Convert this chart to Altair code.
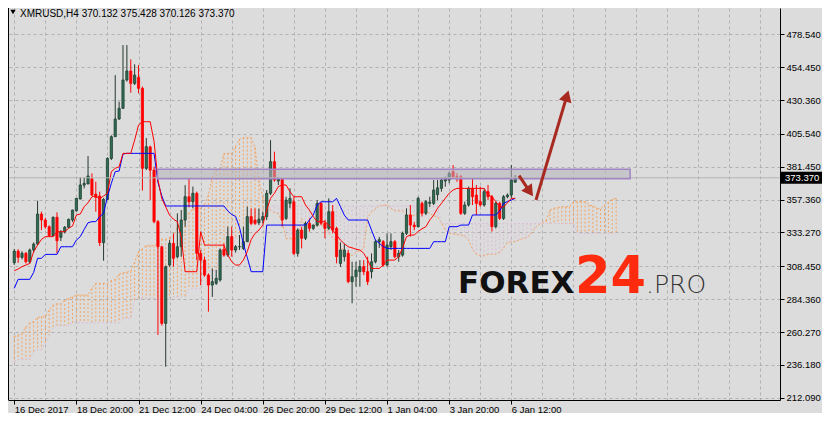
import json
import altair as alt
import pandas as pd

# ---------------- data ----------------
symbol = "XMRUSD,H4"
date_labels = ["16 Dec 2017", "18 Dec 20:00", "21 Dec 12:00", "24 Dec 04:00",
               "26 Dec 20:00", "29 Dec 12:00", "1 Jan 04:00", "3 Jan 20:00", "6 Jan 12:00"]
price_ticks = [212.09, 236.18, 260.27, 284.36, 308.45, 333.27,
               357.36, 381.45, 405.54, 430.36, 454.45, 478.54]

opens = [311.1, 319.6, 315.0, 318.0, 311.8, 320.4, 324.8, 346.8, 342.4, 337.5,
         330.9, 344.4, 329.7, 333.8, 337.1, 342.4, 349.2, 357.8, 368.0, 368.8,
         372.7, 361.4, 360.0, 325.8, 357.5, 387.6, 403.5, 416.5, 424.3, 445.1,
         451.7, 442.6, 447.0, 439.0, 380.3, 396.0, 379.0, 341.2, 322.8, 266.6,
         309.4, 325.3, 315.5, 322.8, 342.4, 359.5, 355.8, 362.0, 318.0, 313.0,
         302.0, 294.7, 296.0, 298.4, 320.9, 316.7, 330.2, 320.4, 322.8, 321.6,
         326.5, 344.9, 342.4, 340.4, 342.4, 344.9, 362.0, 385.2, 371.0, 372.2,
         343.6, 354.6, 355.8, 317.9, 335.0, 329.0, 340.0, 336.3, 338.7, 354.6,
         340.0, 336.3, 348.5, 336.3, 310.6, 315.5, 318.0, 297.2, 300.8, 304.5,
         308.2, 304.5, 304.5, 311.8, 326.5, 326.5, 309.4, 322.9, 326.5, 315.5,
         316.7, 332.6, 346.1, 338.7, 337.5, 354.6, 347.3, 354.6, 354.6, 361.0,
         365.6, 371.0, 371.7, 377.9, 374.2, 374.2, 347.3, 353.4, 365.6, 360.7,
         355.9, 353.4, 363.2, 359.5, 337.5, 354.6, 343.6, 359.5, 360.7, 370.132]
highs = [321.0, 321.0, 319.5, 319.0, 321.5, 326.0, 356.6, 348.5, 344.0, 338.5,
         345.0, 348.0, 335.0, 338.0, 343.5, 350.0, 358.5, 373.7, 373.7, 389.3,
         376.6, 370.5, 363.2, 358.5, 388.3, 404.5, 448.7, 429.2, 470.7, 470.7,
         460.2, 456.6, 456.0, 440.3, 402.5, 397.0, 381.5, 342.4, 323.5, 309.0,
         327.7, 332.6, 347.3, 349.7, 368.0, 373.0, 366.9, 363.2, 320.4, 315.5,
         303.3, 306.9, 305.7, 321.6, 325.3, 337.5, 337.5, 324.0, 331.4, 337.5,
         352.2, 351.0, 350.9, 350.9, 348.5, 364.4, 401.0, 392.5, 374.0, 372.9,
         359.5, 365.6, 359.5, 336.3, 337.5, 341.2, 343.6, 339.0, 357.0, 355.8,
         342.4, 358.3, 353.4, 337.5, 326.0, 325.0, 320.4, 311.8, 311.8, 313.0,
         313.0, 315.5, 317.9, 327.7, 330.0, 327.7, 332.6, 332.6, 327.7, 320.4,
         333.9, 351.0, 353.4, 341.0, 359.5, 356.0, 357.0, 359.5, 371.7, 371.7,
         373.0, 374.2, 377.9, 382.7, 376.6, 375.4, 355.9, 366.9, 373.0, 368.1,
         366.9, 365.6, 368.1, 360.7, 355.9, 355.9, 360.7, 361.9, 382.7, 375.428]
lows = [309.5, 311.0, 313.5, 310.5, 310.5, 318.5, 324.0, 335.0, 336.0, 330.0,
        330.0, 318.0, 327.0, 332.5, 336.5, 341.0, 348.5, 357.5, 365.6, 368.8,
        360.2, 348.5, 323.3, 312.6, 357.0, 386.4, 403.5, 415.8, 424.3, 443.9,
        435.8, 441.4, 435.3, 364.0, 379.0, 357.0, 340.0, 258.1, 265.0, 234.8,
        308.2, 308.2, 314.3, 315.5, 337.5, 351.7, 351.0, 313.0, 294.7, 300.8,
        275.2, 286.0, 294.7, 297.2, 315.5, 315.5, 315.5, 318.5, 320.4, 320.4,
        326.5, 338.7, 338.7, 338.7, 340.0, 342.4, 360.7, 370.5, 368.0, 337.5,
        342.4, 351.0, 316.7, 315.5, 321.6, 327.7, 333.9, 335.0, 337.5, 338.7,
        329.0, 335.0, 332.6, 310.6, 308.0, 312.0, 296.0, 281.3, 293.5, 293.5,
        302.0, 294.7, 299.6, 310.6, 322.0, 308.2, 308.2, 320.4, 314.3, 311.8,
        315.5, 331.4, 330.2, 335.0, 337.0, 345.0, 346.0, 352.0, 353.4, 357.0,
        363.2, 366.9, 369.3, 373.0, 370.5, 346.1, 346.1, 352.2, 353.4, 346.1,
        352.2, 352.2, 357.0, 333.9, 336.3, 342.4, 342.4, 358.3, 358.3, 370.126]
closes = [319.6, 315.0, 318.0, 311.8, 320.4, 324.8, 346.8, 342.4, 337.5, 330.9,
          344.4, 327.2, 333.8, 337.1, 342.9, 349.7, 358.3, 368.1, 369.3, 374.7,
          360.7, 359.0, 325.8, 357.5, 387.6, 403.5, 416.5, 424.3, 445.1, 451.7,
          442.6, 448.7, 439.0, 380.3, 396.2, 379.0, 341.2, 322.8, 266.6, 308.2,
          325.3, 314.3, 322.8, 342.4, 359.5, 355.8, 362.0, 318.0, 313.0, 302.0,
          294.7, 297.2, 299.6, 320.4, 316.7, 330.2, 320.4, 322.8, 322.9, 326.5,
          344.9, 340.0, 340.0, 342.9, 344.9, 362.0, 385.2, 371.7, 372.5, 342.4,
          357.0, 358.3, 317.9, 335.0, 329.0, 340.0, 336.3, 338.7, 354.6, 340.0,
          336.3, 348.5, 335.0, 315.5, 320.4, 320.4, 297.2, 300.8, 305.7, 308.2,
          304.5, 297.2, 311.8, 326.5, 328.0, 309.4, 324.0, 326.5, 315.5, 318.0,
          332.6, 346.1, 338.7, 337.5, 358.3, 347.3, 355.9, 355.5, 364.4, 366.0,
          371.7, 372.5, 376.6, 374.2, 373.5, 347.3, 353.4, 365.6, 359.5, 354.6,
          353.4, 363.2, 359.5, 337.5, 354.6, 343.6, 359.5, 360.7, 371.7, 373.37]

tenkan = [305.2, 306.5, 308.2, 309.4, 310.6, 319.2, 324.0, 328.2, 330.2, 330.2,
          330.2, 333.8, 333.8, 333.8, 336.3, 338.0, 346.1, 346.8, 352.2, 355.0,
          359.5, 360.0, 358.0, 360.0, 362.0, 377.9, 380.3, 381.5, 391.3, 391.3,
          391.3, 401.0, 412.1, 414.5, 414.5, 414.5, 400.0, 372.0, 358.0, 352.0,
          346.0, 343.0, 341.2, 330.0, 304.5, 304.5, 304.5, 304.5, 333.8, 324.0,
          324.0, 324.0, 324.0, 324.0, 324.0, 316.7, 311.8, 309.4, 309.4, 313.0,
          319.2, 328.0, 332.6, 335.0, 338.7, 349.7, 358.3, 362.0, 366.9, 368.1,
          368.1, 363.2, 359.5, 359.5, 359.5, 353.4, 349.7, 344.9, 341.2, 341.2,
          341.2, 338.7, 335.0, 331.4, 327.7, 325.0, 322.8, 322.0, 321.0, 320.4,
          318.0, 313.0, 306.9, 306.9, 306.9, 309.4, 313.0, 313.0, 313.0, 315.5,
          322.0, 330.2, 331.4, 331.4, 334.0, 336.0, 337.5, 342.4, 346.0, 351.0,
          354.6, 358.3, 362.0, 364.4, 365.6, 365.6, 365.6, 365.6, 365.6, 365.6,
          365.6, 365.6, 360.7, 359.5, 356.0, 352.0, 352.0, 355.0, 358.3, 358.3]
kijun = [292.3, 298.9, 298.9, 298.9, 298.9, 304.0, 314.3, 314.3, 317.2, 317.2,
         317.2, 317.2, 322.8, 322.8, 322.8, 322.8, 327.7, 330.2, 335.5, 340.4,
         341.2, 341.2, 344.9, 347.3, 359.5, 369.3, 377.9, 378.3, 390.8, 391.3,
         391.3, 391.3, 391.3, 391.3, 391.3, 391.3, 391.3, 370.0, 360.0, 352.7,
         352.7, 352.7, 352.7, 352.7, 352.7, 352.7, 352.7, 352.7, 352.7, 352.7,
         352.7, 352.7, 352.7, 352.7, 352.7, 349.0, 346.5, 345.0, 337.0, 325.0,
         315.0, 304.5, 304.5, 304.5, 304.5, 338.7, 338.7, 338.7, 338.7, 338.7,
         338.7, 338.7, 338.7, 338.7, 338.7, 338.7, 342.4, 346.1, 353.4, 355.8,
         355.8, 355.8, 355.8, 358.3, 352.2, 346.0, 342.4, 342.4, 342.4, 342.4,
         342.4, 342.4, 335.0, 327.7, 325.3, 323.0, 321.6, 321.6, 321.6, 321.6,
         321.6, 321.6, 321.6, 321.6, 321.6, 321.6, 321.6, 321.6, 326.5, 326.5,
         326.5, 326.5, 337.5, 337.5, 337.5, 338.7, 338.7, 338.7, 346.1, 346.1,
         346.1, 346.1, 346.1, 346.1, 346.1, 349.0, 354.6, 356.0, 357.0, 358.3]
span_a = [256.8, 258.0, 259.3, 264.1, 267.1, 268.0, 270.8, 271.5, 271.5, 276.4,
          280.0, 281.0, 281.0, 283.7, 285.0, 286.0, 287.4, 287.4, 287.4, 287.4,
          292.3, 296.0, 296.0, 296.0, 296.0, 298.0, 298.8, 302.7, 303.6, 304.2,
          304.8, 311.6, 319.2, 321.3, 323.7, 323.7, 323.7, 325.5, 328.3, 328.3,
          329.6, 330.4, 336.9, 338.5, 343.9, 347.7, 350.4, 350.6, 351.5, 353.7,
          360.8, 373.6, 379.1, 379.9, 391.1, 391.3, 391.3, 396.2, 401.7, 402.9,
          402.9, 402.9, 395.7, 371.0, 359.0, 352.4, 349.4, 347.9, 347.0, 341.4,
          328.6, 328.6, 328.6, 328.6, 343.3, 338.4, 338.4, 338.4, 338.4, 338.4,
          338.4, 332.9, 329.2, 327.2, 323.2, 319.0, 317.1, 316.3, 318.6, 319.8,
          321.6, 344.2, 348.5, 350.4, 352.8, 353.4, 353.4, 351.0, 349.1, 349.1,
          349.1, 346.1, 346.1, 345.5, 347.3, 348.5, 348.5, 347.3, 345.4, 344.9,
          340.0, 335.5, 332.6, 332.2, 331.7, 331.4, 330.2, 327.7, 321.0, 317.3,
          316.1, 316.2, 317.3, 317.3, 317.3, 318.6, 321.8, 325.9, 326.5, 326.5,
          327.8, 328.8, 329.6, 332.0, 336.3, 338.8, 340.6, 342.4, 349.8, 351.0,
          351.6, 352.2, 352.2, 352.2, 355.9, 355.9, 355.9, 355.9, 353.4, 352.8,
          351.1, 350.5, 353.3, 355.5, 357.7, 358.3]
span_b = [238.5, 240.2, 240.2, 240.2, 240.2, 245.8, 247.1, 247.1, 252.0, 258.0,
          262.9, 265.0, 265.0, 265.0, 265.0, 267.1, 267.1, 267.1, 267.1, 267.1,
          267.1, 267.1, 267.1, 267.1, 267.1, 267.1, 267.1, 267.1, 270.3, 270.3,
          270.3, 283.7, 284.9, 284.9, 284.9, 284.9, 284.9, 284.9, 284.9, 284.9,
          284.9, 286.0, 286.0, 286.0, 286.0, 292.0, 292.0, 292.0, 292.0, 305.0,
          305.0, 305.0, 305.0, 316.0, 316.0, 316.0, 316.0, 330.0, 330.0, 330.0,
          330.0, 340.0, 340.0, 340.0, 347.0, 347.0, 352.7, 352.7, 352.7, 352.7,
          352.7, 352.7, 352.7, 352.7, 352.7, 352.7, 352.7, 352.7, 352.7, 352.7,
          352.7, 352.7, 352.7, 352.7, 352.7, 352.7, 352.7, 352.7, 352.7, 352.7,
          352.7, 352.7, 352.7, 352.7, 352.7, 352.7, 352.7, 352.7, 352.7, 352.7,
          352.7, 352.7, 352.7, 352.7, 352.7, 352.7, 352.7, 352.7, 352.7, 352.7,
          339.8, 339.8, 339.8, 339.8, 339.8, 339.8, 339.8, 339.8, 339.8, 339.8,
          339.8, 339.8, 339.8, 339.8, 339.8, 339.8, 339.8, 339.8, 339.8, 339.8,
          339.8, 339.8, 339.8, 339.8, 339.8, 339.8, 339.8, 339.8, 339.8, 339.8,
          339.8, 339.8, 339.8, 339.8, 339.8, 332.6, 332.6, 332.6, 332.6, 332.6,
          332.6, 332.6, 332.6, 332.6, 332.6, 332.6]

# resistance zone (bar index range, price range)
zone_bars = [36.9, 158.6]
zone_prices = [372.6, 379.7]
# analyst arrows: start (bar, price) -> head centre (bar, price), head angle
arrow_start_bar = [130.0, 134.35]
arrow_start_price = [374.9, 357.1]
arrow_head_bar = [132.75, 142.3]
arrow_head_price = [363.2, 433.4]
arrow_head_angle = [145, 17]

last_price = closes[-1]

# ---------------- styling ----------------
W, H = 772, 392
BG = "#dcdcdc"
GRID = "#b0b0b0"
FONT = "Liberation Sans"
UP_FILL, UP_EDGE, UP_WICK = "#2f6e54", "#1f3f31", "#26392f"
RED = "#ff0000"
SAND, THISTLE = "#f4a460", "#d8bfd8"
ARROW = "#a8291f"

candles = pd.DataFrame({"bar": list(range(len(opens))), "open": opens, "high": highs,
                        "low": lows, "close": closes})
ichi = pd.DataFrame({"bar": list(range(len(tenkan))), "tenkan": tenkan, "kijun": kijun})
cloud = pd.DataFrame({"bar": list(range(len(span_a))), "a": span_a, "b": span_b})
zone = pd.DataFrame({"bar": [zone_bars[0]], "bar2": [zone_bars[1]],
                     "lo": [zone_prices[0]], "hi": [zone_prices[1]]})
arrows = pd.DataFrame({"bar": arrow_start_bar, "price": arrow_start_price,
                       "bar2": arrow_head_bar, "price2": arrow_head_price,
                       "ang": arrow_head_angle})
price_df = pd.DataFrame({"price": [last_price], "lo": [last_price - 4.4],
                         "hi": [last_price + 4.4], "txt": [f"{last_price:.3f}"]})
one = pd.DataFrame({"k": [0]})

xs = alt.Scale(domain=[-0.325, 195.9], nice=False, zero=False)
ys = alt.Scale(domain=[210.4, 497.9], nice=False, zero=False)
label_js = json.dumps(date_labels)
tick_test = "datum.value % 16 === 0 && datum.value <= 128"
x_axis = alt.Axis(values=list(range(0, 193, 8)), title=None, grid=True,
                  gridColor=GRID, gridDash=[3, 3], gridWidth=1,
                  domainColor="black", domainWidth=1, tickColor="black",
                  tickSize=4, tickWidth=1,
                  tickOpacity={"condition": {"test": tick_test, "value": 1}, "value": 0},
                  labelExpr=f"({tick_test}) ? {label_js}[datum.value / 16] : ''",
                  labelAlign="left", labelBaseline="top", labelPadding=0,
                  labelFlush=False, labelBound=False, labelOverlap=False,
                  labelFont=FONT, labelFontSize=9.5, labelColor="black")
y_axis = alt.Axis(orient="right", values=price_ticks, format=".3f", title=None,
                  grid=True, gridColor=GRID, gridDash=[3, 3], gridWidth=1,
                  domainColor="black", domainWidth=1, tickColor="black", tickSize=4,
                  labelPadding=2, labelFont=FONT, labelFontSize=9.5, labelColor="black",
                  labelOverlap=False, labelBound=False, labelFlush=False)


def X(f):
    return alt.X(f"{f}:Q", scale=xs, axis=x_axis)


def Y(f):
    return alt.Y(f"{f}:Q", scale=ys, axis=y_axis)


is_up = alt.datum.close >= alt.datum.open

hatch = alt.Chart(cloud).mark_rule(strokeWidth=1, strokeDash=[2, 2]).encode(
    x=X("bar"), y=Y("a"), y2="b:Q",
    color=alt.condition(alt.datum.a >= alt.datum.b, alt.value(SAND), alt.value(THISTLE)))
line_a = alt.Chart(cloud).mark_line(color=SAND, strokeWidth=1, strokeDash=[2, 2]).encode(
    x=X("bar"), y=Y("a"))
line_b = alt.Chart(cloud).mark_line(color=THISTLE, strokeWidth=1, strokeDash=[2, 2]).encode(
    x=X("bar"), y=Y("b"))

wicks = alt.Chart(candles).mark_rule(strokeWidth=1).encode(
    x=X("bar"), y=Y("low"), y2="high:Q",
    color=alt.condition(is_up, alt.value(UP_WICK), alt.value(RED)))
bodies = alt.Chart(candles).mark_bar(size=2.2, strokeWidth=0.8).encode(
    x=X("bar"), y=Y("open"), y2="close:Q",
    fill=alt.condition(is_up, alt.value(UP_FILL), alt.value(RED)),
    stroke=alt.condition(is_up, alt.value(UP_EDGE), alt.value(RED)))

kijun_line = alt.Chart(ichi).mark_line(color="#0000ff", strokeWidth=1).encode(
    x=X("bar"), y=Y("kijun"))
tenkan_line = alt.Chart(ichi).mark_line(color=RED, strokeWidth=1).encode(
    x=X("bar"), y=Y("tenkan"))

price_line = alt.Chart(price_df).mark_rule(color="#b4b4b4", strokeWidth=1).encode(
    y=Y("price"), x=alt.value(0), x2=alt.value(W))

zone_rect = alt.Chart(zone).mark_rect(fill="#b4b4bc", fillOpacity=0.55,
                                      stroke="#a384c4", strokeWidth=1.5).encode(
    x=X("bar"), x2="bar2:Q", y=Y("lo"), y2="hi:Q")

arrow_lines = alt.Chart(arrows).mark_rule(color=ARROW, strokeWidth=3).encode(
    x=X("bar"), y=Y("price"), x2="bar2:Q", y2="price2:Q")
arrow_heads = alt.Chart(arrows).mark_point(shape="triangle-up", filled=True, opacity=1,
                                           color=ARROW, size=170).encode(
    x=X("bar2"), y=Y("price2"), angle=alt.Angle("ang:Q", scale=None))

tag_box = alt.Chart(price_df).mark_rect(color="black").encode(
    y=Y("lo"), y2="hi:Q", x=alt.value(W + 1), x2=alt.value(W + 42))
tag_text = alt.Chart(price_df).mark_text(align="left", baseline="middle", color="white",
                                         font=FONT, fontSize=9.5).encode(
    y=Y("price"), x=alt.value(W + 5), text="txt:N")

left_frame = alt.Chart(one).mark_rule(color="black", strokeWidth=1).encode(
    x=alt.value(0.5), y=alt.value(0), y2=alt.value(H))

header_tri = alt.Chart(one).mark_point(shape="triangle-down", filled=True, opacity=1,
                                       color="black", size=28).encode(
    x=alt.value(5), y=alt.value(4))
header_txt = alt.Chart(one).mark_text(
    align="left", baseline="alphabetic", font=FONT, fontSize=10, color="black",
    text=f"{symbol}  {opens[-1]:.3f} {highs[-1]:.3f} {lows[-1]:.3f} {closes[-1]:.3f}"
).encode(x=alt.value(12), y=alt.value(9))

logo_1 = alt.Chart(one).mark_text(align="left", baseline="alphabetic", font="DejaVu Sans",
                                  fontWeight="bold", fontSize=31, color="#111111",
                                  text="FOREX").encode(x=alt.value(450), y=alt.value(285))
logo_2 = alt.Chart(one).mark_text(align="left", baseline="alphabetic", font="DejaVu Sans",
                                  fontWeight="bold", fontSize=51, color="#ff2b0e",
                                  text="24").encode(x=alt.value(567), y=alt.value(285))
logo_3 = alt.Chart(one).mark_text(align="left", baseline="alphabetic", font="DejaVu Sans",
                                  fontWeight=200, fontSize=25, color="#333333",
                                  text=".PRO").encode(x=alt.value(638), y=alt.value(285))

chart = alt.layer(
    hatch, line_a, line_b, wicks, bodies, kijun_line, tenkan_line, price_line,
    zone_rect, arrow_lines, arrow_heads, tag_box, tag_text, left_frame,
    header_tri, header_txt, logo_1, logo_2, logo_3
).properties(
    width=W, height=H,
    autosize=alt.AutoSizeParams(type="none"),
    padding={"left": 0, "top": 0, "right": 42, "bottom": 13},
).configure(background=BG).configure_view(stroke=None)

chart.save("out.html", embed_options={"renderer": "svg", "actions": False})
